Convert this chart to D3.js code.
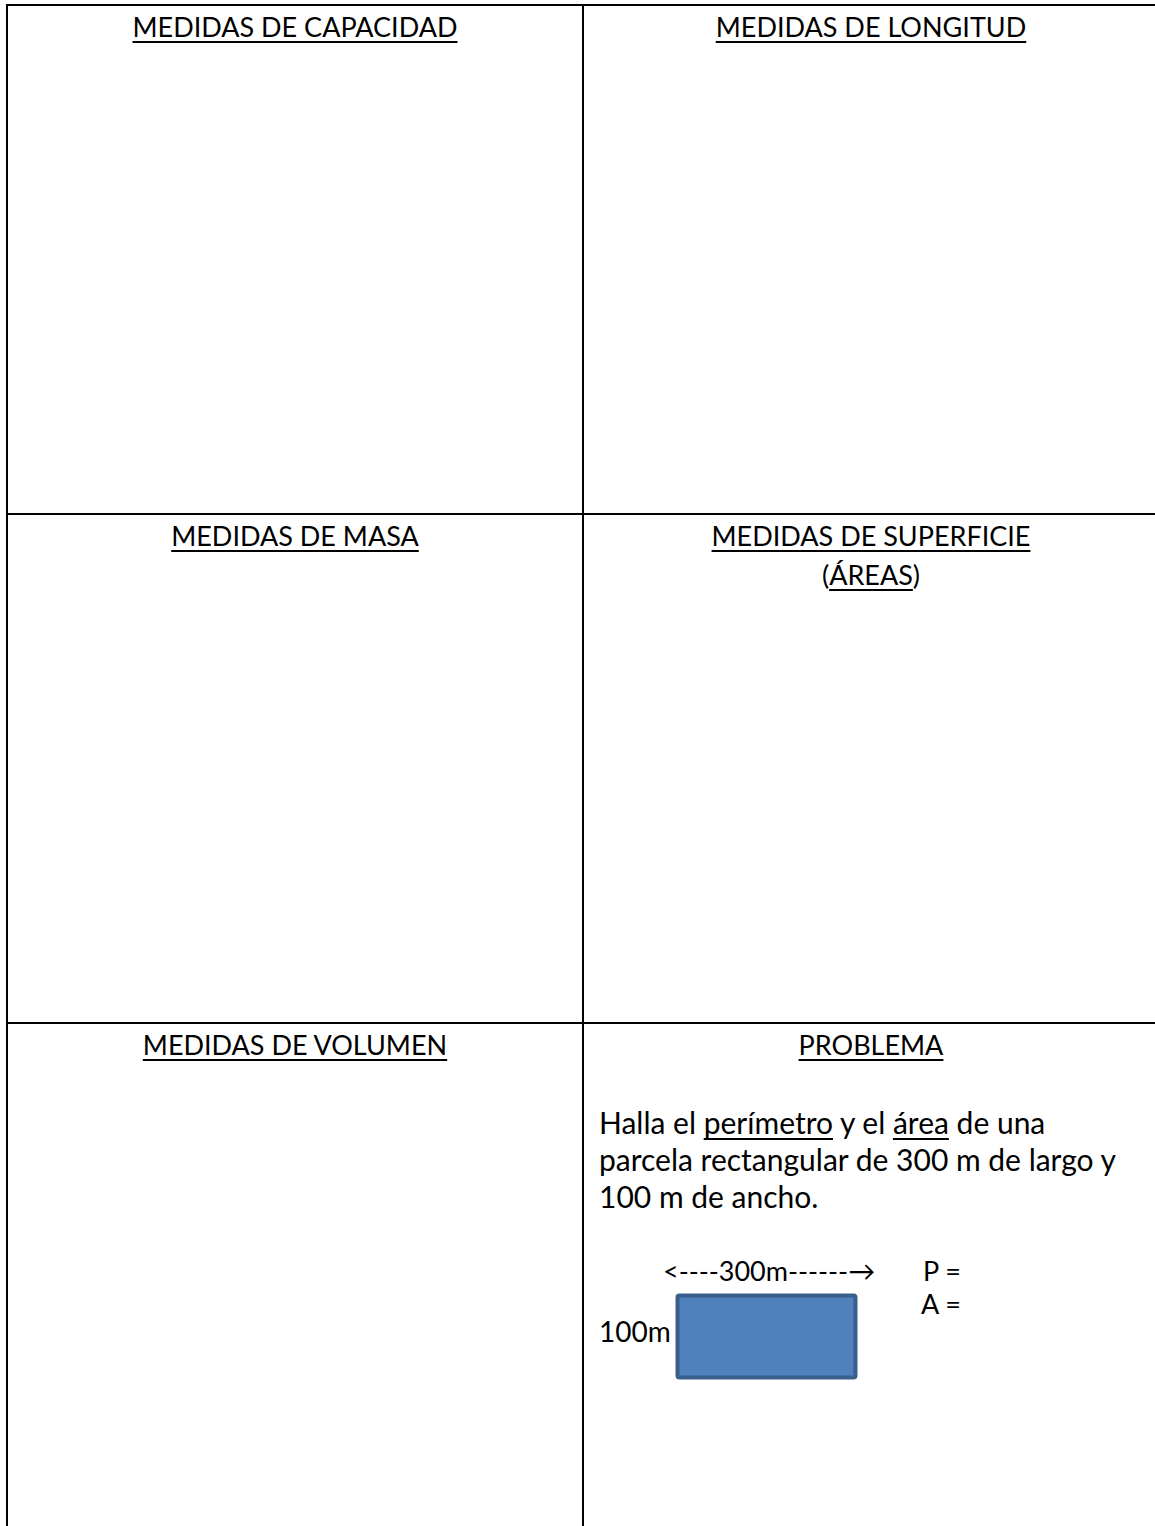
<!DOCTYPE html>
<html>
<head>
<meta charset="utf-8">
<script src="https://cdn.jsdelivr.net/npm/d3@7"></script>
<style>
  html, body { margin: 0; padding: 0; background: #fff; }
  svg { display: block; }
  text { font-family: Lato, "Open Sans", sans-serif; fill: #000; }
</style>
</head>
<body>
<div id="chart"></div>
<script>
// table rows / columns
var rowIds = [0, 1, 2];
var colIds = [0, 1];

// cell titles, each line a list of [text, underlined] segments
var cellTitles = [
    { row: 0, col: 0, lines: [[["MEDIDAS DE CAPACIDAD", true]]] },
    { row: 0, col: 1, lines: [[["MEDIDAS DE LONGITUD", true]]] },
    { row: 1, col: 0, lines: [[["MEDIDAS DE MASA", true]]] },
    { row: 1, col: 1, lines: [[["MEDIDAS DE SUPERFICIE", true]], [["(", false], ["ÁREAS", true], [")", false]]] },
    { row: 2, col: 0, lines: [[["MEDIDAS DE VOLUMEN", true]]] },
    { row: 2, col: 1, lines: [[["PROBLEMA", true]]] }
];

// problem statement
var problemLines = [
    [["Halla el ", false], ["perímetro", true], [" y el ", false], ["área", true], [" de una", false]],
    [["parcela rectangular de 300 m de largo y", false]],
    [["100 m de ancho.", false]]
];

var plotLabels = { largo: "<----300m------\u2192", ancho: "100m" };
var answerLabels = ["P =", "A ="];

var attrs = {
    width: 1155,
    height: 1526,
    left: 7,
    top: 5,
    rowHeight: 509,
    colWidth: 576,
    line: 2,
    titleSize: 27,
    bodySize: 30,
    figSize: 27
};

var svg = d3.select("#chart").append("svg")
    .attr("width", attrs.width)
    .attr("height", attrs.height);

var x = d3.scaleBand().domain(colIds)
    .range([attrs.left, attrs.left + attrs.colWidth * colIds.length]);
var y = d3.scaleBand().domain(rowIds)
    .range([attrs.top, attrs.top + attrs.rowHeight * rowIds.length]);

// grid lines
var grid = svg.append("g").attr("stroke", "#000").attr("stroke-width", attrs.line);
grid.selectAll(".hline").data(rowIds).enter().append("line")
    .attr("class", "hline")
    .attr("x1", attrs.left - 1).attr("x2", attrs.width)
    .attr("y1", function(d) { return y(d); })
    .attr("y2", function(d) { return y(d); });
grid.selectAll(".vline").data(colIds).enter().append("line")
    .attr("class", "vline")
    .attr("x1", function(d) { return x(d); })
    .attr("x2", function(d) { return x(d); })
    .attr("y1", attrs.top - 1).attr("y2", attrs.height);

// draw one line of segments, underlining where asked
function segLine(g, segs, px, py, anchor, size) {
    var t = g.append("text")
        .attr("x", px).attr("y", py)
        .attr("text-anchor", anchor)
        .style("font-size", size + "px");
    t.selectAll("tspan").data(segs).enter().append("tspan")
        .text(function(d) { return d[0]; });
    var node = t.node();
    var idx = 0;
    segs.forEach(function(s) {
        var n = s[0].length;
        if (s[1]) {
            var x0 = node.getStartPositionOfChar(idx).x;
            var x1 = node.getEndPositionOfChar(idx + n - 1).x;
            g.append("line")
                .attr("x1", x0).attr("x2", x1)
                .attr("y1", py + 5).attr("y2", py + 5)
                .attr("stroke", "#000").attr("stroke-width", 2);
        }
        idx += n;
    });
}

var titles = svg.append("g");
cellTitles.forEach(function(c) {
    c.lines.forEach(function(segs, i) {
        segLine(titles, segs, x(c.col) + x.bandwidth() / 2, y(c.row) + 32 + i * 39, "middle", attrs.titleSize);
    });
});

// problem text
var prob = svg.append("g");
var px = x(1) + 16;
problemLines.forEach(function(segs, i) {
    segLine(prob, segs, px, 1134 + i * 37, "start", attrs.bodySize);
});

// plot drawing
var fig = svg.append("g");
fig.append("rect")
    .attr("x", 677.5).attr("y", 1295.5)
    .attr("width", 178).attr("height", 82)
    .attr("rx", 2)
    .attr("fill", "#4F81BD")
    .attr("stroke", "#3A5F8B")
    .attr("stroke-width", 4);
fig.append("text").attr("x", 663).attr("y", 1281)
    .style("font-size", attrs.figSize + "px").text(plotLabels.largo);
fig.append("text").attr("x", 599).attr("y", 1342)
    .style("font-size", 28 + "px").text(plotLabels.ancho);
fig.selectAll(".ans").data(answerLabels).enter().append("text")
    .attr("class", "ans")
    .attr("x", 961)
    .attr("y", function(d, i) { return 1281 + i * 33; })
    .attr("text-anchor", "end")
    .style("font-size", attrs.figSize + "px")
    .text(function(d) { return d; });
</script>
</body>
</html>
